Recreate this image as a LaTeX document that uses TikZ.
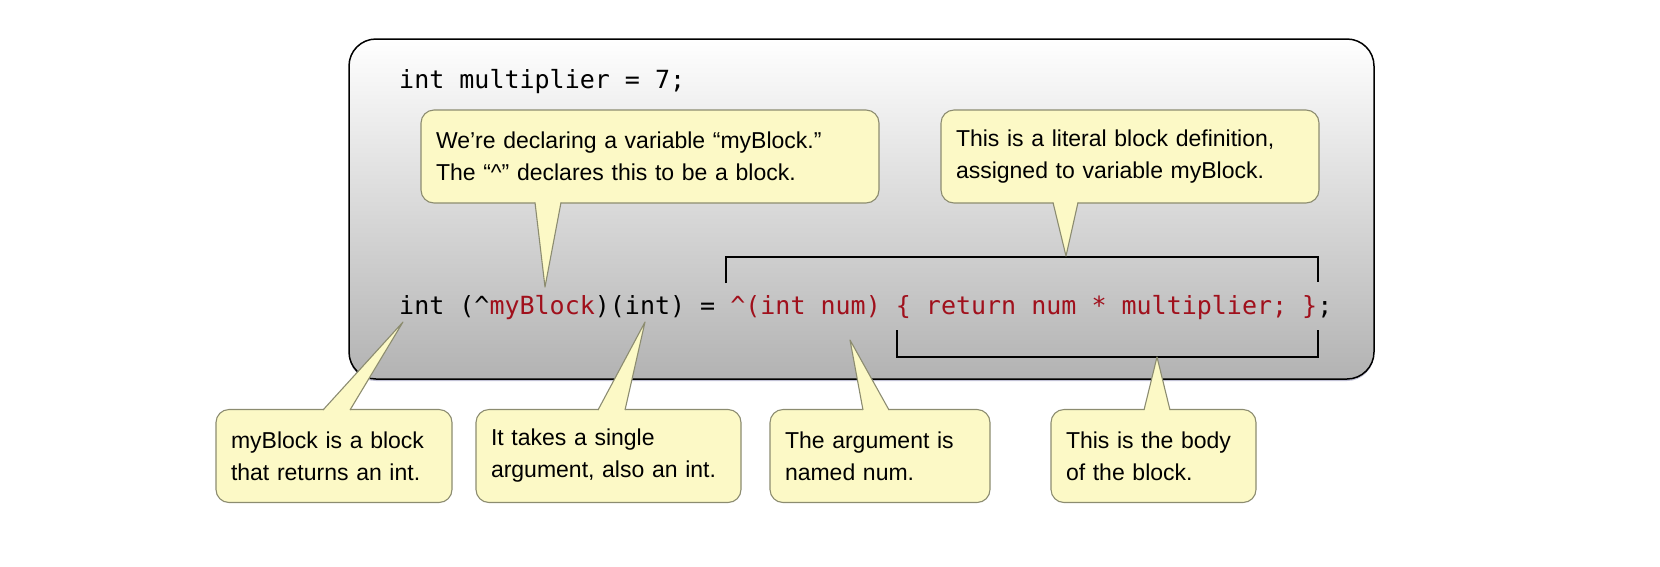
\documentclass[tikz,border=0pt]{standalone}
\usepackage{fontspec}
\setmainfont{Liberation Sans}
\newfontfamily\codefont{DejaVu Sans Mono}
\usetikzlibrary{shadows}
\definecolor{codered}{HTML}{A0101C}
\definecolor{tipfill}{HTML}{FCF9C6}
\definecolor{tipline}{HTML}{8C8C70}
\begin{document}
\begin{tikzpicture}[x=1pt,y=-1pt,
  callout/.style={draw=tipline, line width=1.1pt, fill=tipfill, rounded corners=13pt,
    minimum height=93pt, inner xsep=15pt, align=left, anchor=center,
    font=\fontsize{23}{32}\selectfont},
  spike/.style={fill=tipfill},
  spikeline/.style={draw=tipline, line width=1.1pt, line join=round},
  code/.style={anchor=base west, inner sep=0pt, font=\codefont\fontsize{25}{30}\selectfont},
  bracket/.style={draw=black, line width=2pt}]
\useasboundingbox (0,0) rectangle (1660,566);
% main box
\node[draw=black, line width=1.5pt, rounded corners=27pt, minimum width=1025pt, minimum height=340pt,
  top color=white, bottom color=black!30, drop shadow={shadow xshift=0pt, shadow yshift=-2pt, fill=blue!20!gray, opacity=0.4}]
  (box) at (861.5,209) {};
\node[code] (line1) at (399,88) {int multiplier = 7;};
\node[code] (line2) at (399,314) {int (\textasciicircum\textcolor{codered}{myBlock})(int) = \textcolor{codered}{\textasciicircum(int num) \{ return num * multiplier; \}};};
% brackets
\coordinate (tb1) at (726,283); \coordinate (tb2) at (726,257);
\coordinate (tb3) at (1318,257); \coordinate (tb4) at (1318,282);
\draw[bracket] (tb1) -- (tb2) -- (tb3) -- (tb4);
\coordinate (bb1) at (897,330); \coordinate (bb2) at (897,357);
\coordinate (bb3) at (1318,357); \coordinate (bb4) at (1318,330);
\draw[bracket] (bb1) -- (bb2) -- (bb3) -- (bb4);
% top callouts
\node[callout, minimum width=458pt, text width=428pt] (c1) at (650,156.5)
  {We’re declaring a variable “myBlock.”\\The “\textasciicircum” declares this to be a block.};
\node[callout, minimum width=378pt, text width=348pt] (c2) at (1130,156.5)
  {This is a literal block definition,\\assigned to variable myBlock.};
\coordinate (t1) at (545,287); \coordinate (t2) at (1066,256);
\fill[spike] (535,201) -- (t1) -- (561,201) -- cycle;
\draw[spikeline] (535,202.5) -- (t1) -- (561,202.5);
\fill[spike] (1053,201) -- (t2) -- (1078,201) -- cycle;
\draw[spikeline] (1053,202.5) -- (t2) -- (1078,202.5);
% bottom callouts
\node[callout, minimum width=236pt, text width=206pt] (b1) at (334,456)
  {myBlock is a block\\that returns an int.};
\node[callout, minimum width=265pt, text width=235pt] (b2) at (608.5,456)
  {It takes a single\\argument, also an int.};
\node[callout, minimum width=220pt, text width=190pt] (b3) at (880,456)
  {The argument is\\named num.};
\node[callout, minimum width=205pt, text width=175pt] (b4) at (1153.5,456)
  {This is the body\\of the block.};
\coordinate (u1) at (403,322); \coordinate (u2) at (645,322);
\coordinate (u3) at (850,340); \coordinate (u4) at (1157,357);
\fill[spike] (323,411) -- (u1) -- (350,411) -- cycle;
\draw[spikeline] (323,410) -- (u1) -- (350,410);
\fill[spike] (598,411) -- (u2) -- (625,411) -- cycle;
\draw[spikeline] (598,410) -- (u2) -- (625,410);
\fill[spike] (863,411) -- (u3) -- (889,411) -- cycle;
\draw[spikeline] (863,410) -- (u3) -- (889,410);
\fill[spike] (1144,411) -- (u4) -- (1170,411) -- cycle;
\draw[spikeline] (1144,410) -- (u4) -- (1170,410);
\end{tikzpicture}
\end{document}
